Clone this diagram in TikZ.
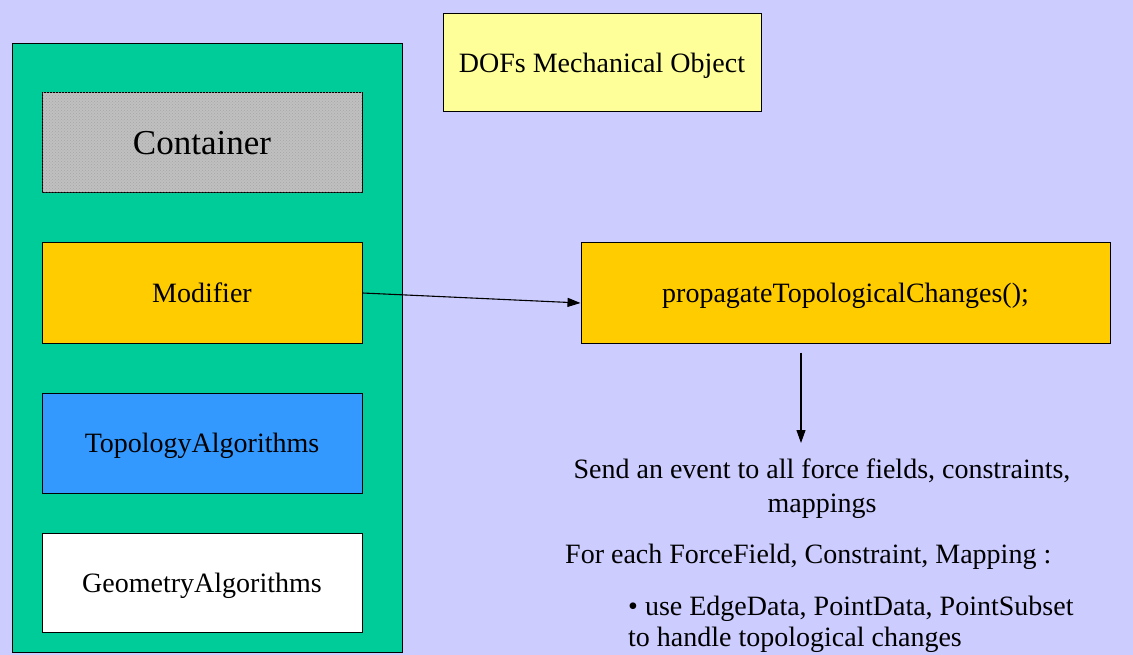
\documentclass[tikz,border=0pt]{standalone}
\usepackage{fontspec}
\setmainfont{LiberationSerif}[Extension=.ttf,UprightFont=*-Regular,BoldFont=*-Bold,ItalicFont=*-Italic,BoldItalicFont=*-BoldItalic]
\usetikzlibrary{arrows.meta,patterns}

\definecolor{bgblue}{HTML}{CCCCFF}
\definecolor{panelgreen}{HTML}{00CC99}
\definecolor{contgray}{HTML}{C0C0C0}
\definecolor{modyellow}{HTML}{FFCC00}
\definecolor{topoblue}{HTML}{3399FF}
\definecolor{dofsyellow}{HTML}{FFFF99}

\begin{document}
\begin{tikzpicture}[x=1pt,y=-1pt,
    compbox/.style={draw=black,line width=1pt,minimum width=320pt,minimum height=100pt,inner sep=0pt,text depth=0pt,font=\fontsize{28}{34}\selectfont},
    note/.style={inner sep=0pt,font=\fontsize{28}{34}\selectfont},
    link/.style={line width=1.1pt,-{Triangle[length=13pt,width=9pt]}}]
        % Background and bounding box
        \fill[bgblue] (0,0) rectangle (1133,655);
        \useasboundingbox (0,0) rectangle (1133,655);

        % Draw the green panel with its components
        \node[draw=black,line width=1pt,fill=panelgreen,minimum width=390pt,minimum height=608pt,inner sep=0pt] (panel) at (207,348) {};
        \node[compbox,fill=contgray] (container) at (202,143) {};  % hatched box
        \fill[pattern=crosshatch dots,pattern color=gray!70] (container.south west) rectangle (container.north east);
        \node[font=\fontsize{35}{40}\selectfont,text depth=0pt] at (container) {Container};
        \node[compbox,fill=modyellow] (modifier) at (202,293) {Modifier};
        \node[compbox,fill=topoblue] (topoalgo) at (202,443) {TopologyAlgorithms};
        \node[compbox,fill=white,minimum height=99pt] (geoalgo) at (202,582.5) {GeometryAlgorithms};

        % Draw the mechanical object and the propagation box
        \node[compbox,fill=dofsyellow,minimum width=318pt,minimum height=98pt] (dofs) at (602,63) {DOFs Mechanical Object};
        \node[compbox,fill=modyellow,minimum width=529pt] (propagate) at (845.5,293) {propagateTopologicalChanges();};

        % Draw the notes
        \node[note,anchor=north,align=center] (event) at (822,459) {Send an event to all force fields, constraints,\\mappings};
        \node[note,anchor=north west] (foreach) at (565,544) {For each ForceField, Constraint, Mapping :};
        \node[note,anchor=north west,align=left,font=\fontsize{28}{31}\selectfont] (usedata) at (628,596) {\textbullet{} use EdgeData, PointData, PointSubset\\to handle topological changes};

        % Draw the arrows
        \coordinate (eventtop) at (801,443);
        \draw[link] (modifier.east) -- ([yshift=-10pt]propagate.west);
        \draw[link] ([xshift=-44.5pt,yshift=-9pt]propagate.south) -- (eventtop);
    \end{tikzpicture}
\end{document}
